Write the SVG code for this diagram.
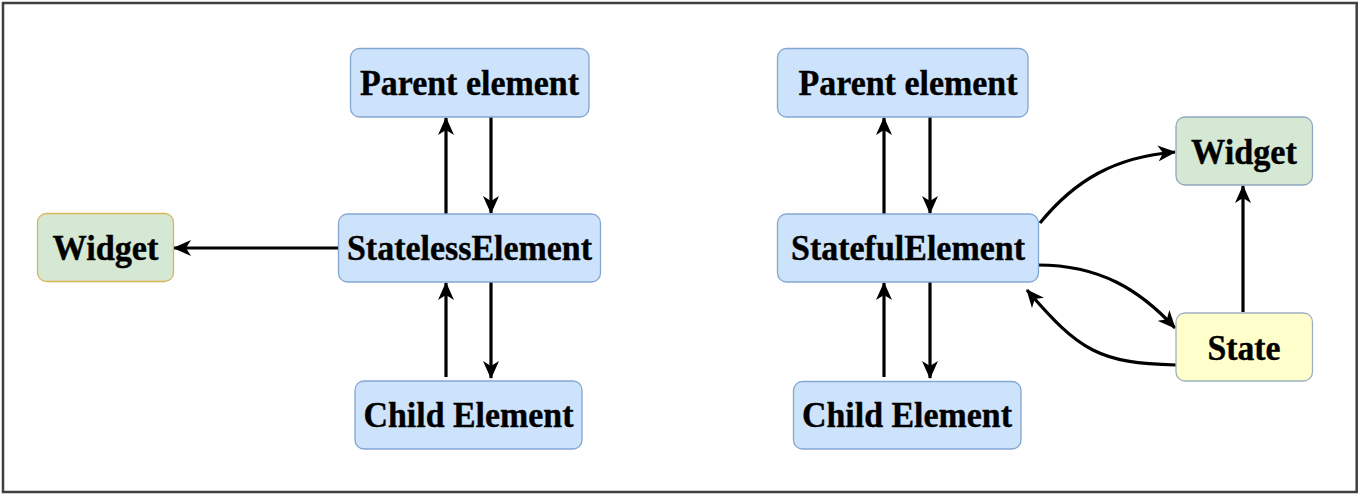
<svg xmlns="http://www.w3.org/2000/svg" width="1364" height="498" viewBox="0 0 1364 498">
<style>
.frame{fill:#ffffff;stroke:#3f3f3f;stroke-width:2.5}
.blue{fill:#cde3fb;stroke:#83a6d2;stroke-width:1.3}
.green{fill:#d5e8d4}
.gy{stroke:#d6b656;stroke-width:1.3}
.gb{stroke:#8fa7bf;stroke-width:1.3}
.yellow{fill:#ffffcc;stroke:#9fb0bf;stroke-width:1.3}
text{font-family:"Liberation Serif","Times New Roman",serif;font-weight:bold;font-size:36px;fill:#000;text-anchor:middle;stroke:#000;stroke-width:0.4}
.c{fill:none;stroke:#000;stroke-width:3.2;marker-end:url(#arr)}
</style>
<defs>
<marker id="arr" markerUnits="userSpaceOnUse" markerWidth="18" markerHeight="16" viewBox="0 0 18 16" refX="17" refY="8" orient="auto">
<path d="M0,0 L18,8 L0,16 L5,8 Z" fill="#000"/>
</marker>
</defs>
<rect class="frame" x="3" y="3" width="1353.7" height="489"/>
<g id="connectors">
<line class="c" x1="446" y1="214" x2="446" y2="118"/>
<line class="c" x1="491" y1="117" x2="491" y2="213"/>
<line class="c" x1="446" y1="377" x2="446" y2="283"/>
<line class="c" x1="491" y1="282" x2="491" y2="378"/>
<line class="c" x1="338" y1="248" x2="174" y2="248"/>
<line class="c" x1="884" y1="214" x2="884" y2="118"/>
<line class="c" x1="930" y1="117" x2="930" y2="213"/>
<line class="c" x1="884" y1="377" x2="884" y2="283"/>
<line class="c" x1="930" y1="282" x2="930" y2="378"/>
<path class="c" d="M1040,223 C1075,180 1115,157 1175,152"/>
<path class="c" d="M1038,265 C1100,265 1140,290 1175,328"/>
<path class="c" d="M1176,365 C1100,363 1080,352 1027,290"/>
<line class="c" x1="1243" y1="312" x2="1243" y2="186"/>
</g>
<g id="left-parent">
<rect class="blue" x="350.5" y="48.5" width="238.5" height="68.5" rx="9"/>
<text x="469.5" y="95" textLength="219" lengthAdjust="spacingAndGlyphs">Parent element</text>
</g>
<g id="left-stateless">
<rect class="blue" x="338.5" y="214" width="262" height="68" rx="9"/>
<text x="469.5" y="260" textLength="245" lengthAdjust="spacingAndGlyphs">StatelessElement</text>
</g>
<g id="left-child">
<rect class="blue" x="355" y="381" width="227" height="68" rx="9"/>
<text x="468.5" y="427" textLength="210" lengthAdjust="spacingAndGlyphs">Child Element</text>
</g>
<g id="left-widget">
<rect class="green gy" x="37.5" y="213.5" width="136" height="68" rx="9"/>
<text x="105.5" y="260" textLength="106" lengthAdjust="spacingAndGlyphs">Widget</text>
</g>
<g id="right-parent">
<rect class="blue" x="777.5" y="48.5" width="250.5" height="68.5" rx="9"/>
<text x="908" y="95" textLength="219" lengthAdjust="spacingAndGlyphs">Parent element</text>
</g>
<g id="right-stateful">
<rect class="blue" x="777.5" y="214" width="261" height="68" rx="9"/>
<text x="908" y="260" textLength="234" lengthAdjust="spacingAndGlyphs">StatefulElement</text>
</g>
<g id="right-child">
<rect class="blue" x="793.5" y="381.5" width="227.5" height="67.5" rx="9"/>
<text x="907" y="427" textLength="210" lengthAdjust="spacingAndGlyphs">Child Element</text>
</g>
<g id="right-widget">
<rect class="green gb" x="1176" y="117" width="136.5" height="68" rx="9"/>
<text x="1244" y="164" textLength="106" lengthAdjust="spacingAndGlyphs">Widget</text>
</g>
<g id="right-state">
<rect class="yellow" x="1176" y="313" width="136.5" height="68" rx="9"/>
<text x="1244" y="360" textLength="73" lengthAdjust="spacingAndGlyphs">State</text>
</g>
</svg>
